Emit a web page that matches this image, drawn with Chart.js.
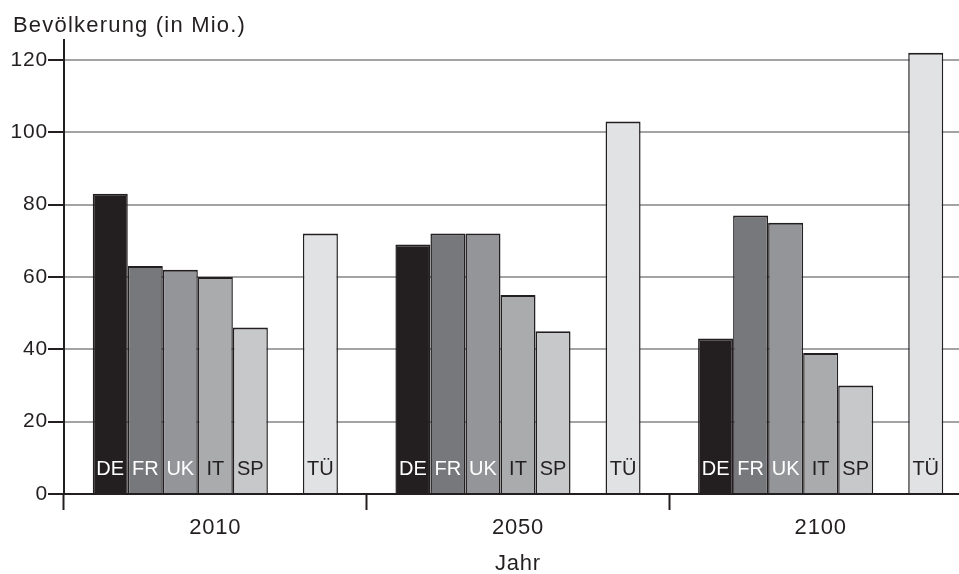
<!DOCTYPE html>
<html><head><meta charset="utf-8">
<script src="https://cdn.jsdelivr.net/npm/chart.js@4/dist/chart.umd.min.js"></script>
<style>
html,body{margin:0;padding:0;overflow:hidden;background:#fff}
#wrap{width:980px;height:574px;position:relative}
</style>
</head><body><div id="wrap"><canvas id="c"></canvas></div>
<script>
// ---- data ----
const years = ['2010', '2050', '2100'];
const seriesNames = ['DE', 'FR', 'UK', 'IT', 'SP', '', 'TÜ'];
const DE = [83, 69, 43];
const FR = [63, 72, 77];
const UK = [62, 72, 75];
const IT = [60, 55, 39];
const SP = [46, 45, 30];
const GAP = [null, null, null];
const TU = [72, 103, 122];
const yTicks = [0, 20, 40, 60, 80, 100, 120];
const yTitle = 'Bevölkerung (in Mio.)';
const xTitle = 'Jahr';

// ---- styles ----
const seriesValues = [DE, FR, UK, IT, SP, GAP, TU];
const fills = ['#231f20', '#77787b', '#939598', '#a9abad', '#c7c8ca', '#ffffff', '#e1e2e3'];
const labelColors = ['#ffffff', '#ffffff', '#ffffff', '#231f20', '#231f20', '#231f20', '#231f20'];
const ink = '#231f20';
const FONT = '"Liberation Sans", Arial, Helvetica, sans-serif';

const datasets = seriesNames.map((n, i) => ({
  label: n,
  data: seriesValues[i],
  backgroundColor: fills[i],
  borderColor: ink,
  borderWidth: {top: 2, left: 1.5, right: 1.5, bottom: 0},
  borderSkipped: 'start',
  barPercentage: 1,
  categoryPercentage: 0.81
}));

const spacing = {
  id: 'spacing',
  beforeDraw(chart) { chart.ctx.letterSpacing = '0.8px'; }
};

const barLabels = {
  id: 'barLabels',
  afterDatasetsDraw(chart) {
    const ctx = chart.ctx;
    const y0 = chart.scales.y.getPixelForValue(0);
    ctx.save();
    ctx.letterSpacing = '0px';
    ctx.font = '20px ' + FONT;
    ctx.textAlign = 'center';
    ctx.textBaseline = 'middle';
    chart.data.datasets.forEach((ds, i) => {
      if (!ds.label) return;
      const meta = chart.getDatasetMeta(i);
      ctx.fillStyle = labelColors[i];
      meta.data.forEach(bar => ctx.fillText(ds.label, bar.x, y0 - 25));
    });
    ctx.restore();
  }
};

const topTitle = {
  id: 'topTitle',
  afterDraw(chart) {
    const ctx = chart.ctx;
    ctx.save();
    ctx.letterSpacing = '1.2px';
    ctx.font = '22px ' + FONT;
    ctx.fillStyle = ink;
    ctx.textAlign = 'left';
    ctx.textBaseline = 'middle';
    ctx.fillText(yTitle, 13, 26);
    ctx.restore();
  }
};

new Chart(document.getElementById('c'), {
  type: 'bar',
  data: {labels: years, datasets},
  plugins: [spacing, barLabels, topTitle],
  options: {
    responsive: true,
    maintainAspectRatio: false,
    animation: false,
    layout: {padding: {top: 40, right: 8, left: 0, bottom: 0}},
    plugins: {legend: {display: false}, tooltip: {enabled: false}, title: {display: false}},
    scales: {
      y: {
        min: 0, max: 125.5,
        afterBuildTicks: s => { s.ticks = yTicks.map(v => ({value: v})); },
        afterFit: s => { s.width = 64; },
        ticks: {font: {size: 21, family: FONT}, color: ink, padding: 0},
        grid: {color: '#a3a3a5', lineWidth: 2, tickColor: ink, tickLength: 16, tickWidth: 2},
        border: {color: ink, width: 2}
      },
      x: {
        afterFit: s => { s.height = 80; },
        ticks: {font: {size: 22, family: FONT}, color: ink, padding: 5},
        grid: {offset: true, drawOnChartArea: false, tickColor: ink, tickLength: 16, tickWidth: 2},
        border: {color: ink, width: 2},
        title: {display: true, text: xTitle, color: ink, font: {size: 22, family: FONT, lineHeight: 1}, padding: {top: 0, bottom: -1}}
      }
    }
  }
});
</script>
</body></html>
